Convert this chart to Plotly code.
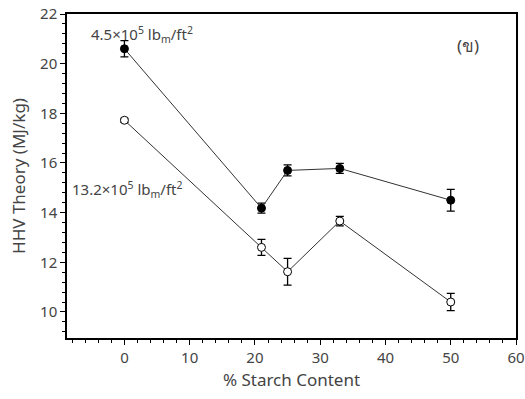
import plotly.graph_objects as go

starch = [0, 21, 25, 33, 50]
hhv_low = [20.6, 14.18, 15.7, 15.78, 14.5]
err_low = [0.33, 0.2, 0.22, 0.2, 0.44]
hhv_high = [17.72, 12.6, 11.62, 13.66, 10.4]
err_high = [0.08, 0.32, 0.54, 0.19, 0.35]

label_low = "4.5×10<sup>5</sup> lb<sub>m</sub>/ft<sup>2</sup>"
label_high = "13.2×10<sup>5</sup> lb<sub>m</sub>/ft<sup>2</sup>"
panel = "(ข)"

FONT = "Noto Sans"
TXT = "#444444"

fig = go.Figure()
fig.add_trace(go.Scatter(
    x=starch, y=hhv_low, mode="lines+markers",
    line=dict(color="#333333", width=1),
    marker=dict(symbol="circle", size=8, color="black", line=dict(color="black", width=1)),
    error_y=dict(type="data", array=err_low, visible=True, color="black", thickness=1.3, width=4),
    showlegend=False,
))
fig.add_trace(go.Scatter(
    x=starch, y=hhv_high, mode="lines+markers",
    line=dict(color="#333333", width=1),
    marker=dict(symbol="circle", size=8, color="white", line=dict(color="black", width=1)),
    error_y=dict(type="data", array=err_high, visible=True, color="black", thickness=1.3, width=4),
    showlegend=False,
))

fig.add_annotation(x=-5.4, y=21.16, xref="x", yref="y", text=label_low, showarrow=False,
                   xanchor="left", yanchor="middle", font=dict(family=FONT, size=15, color=TXT))
fig.add_annotation(x=-8.4, y=14.93, xref="x", yref="y", text=label_high, showarrow=False,
                   xanchor="left", yanchor="middle", font=dict(family=FONT, size=15, color=TXT))
fig.add_annotation(x=50.6, y=20.73, xref="x", yref="y", text=panel, showarrow=False,
                   xanchor="left", yanchor="middle", font=dict(family=FONT, size=17, color=TXT))

axis_common = dict(
    showgrid=False, zeroline=False, showline=True, linecolor="black", linewidth=1.5,
    mirror=True, ticks="outside", ticklen=5, tickwidth=1.2, tickcolor="black",
    tickfont=dict(family=FONT, size=15, color=TXT), automargin=False,
    ticklabeloverflow="allow",
)
fig.update_xaxes(
    range=[-8.8, 60], tick0=0, dtick=10, **axis_common,
    minor=dict(dtick=2, tick0=0, ticks="outside", ticklen=3, tickcolor="black", tickwidth=1),
    title=dict(text="% Starch Content", font=dict(family=FONT, size=17, color=TXT), standoff=8),
)
fig.update_yaxes(
    range=[8.95, 22], tick0=0, dtick=2, **axis_common,
    minor=dict(dtick=0.4, tick0=0, ticks="outside", ticklen=3, tickcolor="black", tickwidth=1),
    title=dict(text="HHV Theory (MJ/kg)", font=dict(family=FONT, size=17, color=TXT), standoff=10),
)
fig.update_layout(
    width=525, height=399, margin=dict(l=67, r=9, t=14, b=61),
    plot_bgcolor="white", paper_bgcolor="white",
    font=dict(family=FONT, color=TXT),
)
fig.write_html("out.html", config={"displayModeBar": False},
               post_script="document.body.style.margin='0';")
